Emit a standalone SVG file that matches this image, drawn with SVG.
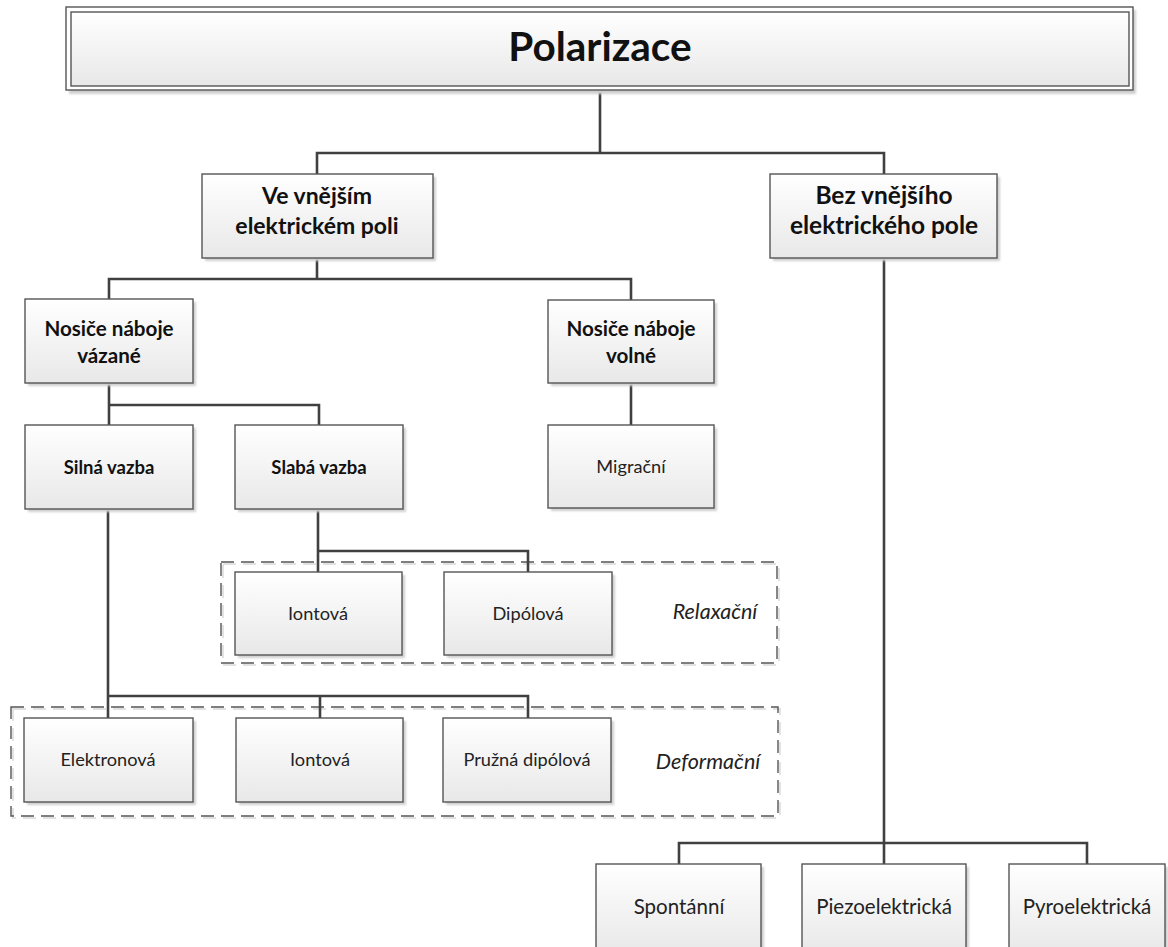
<svg xmlns="http://www.w3.org/2000/svg" width="1168" height="947" viewBox="0 0 1168 947">
<defs>
<linearGradient id="g" x1="0" y1="0" x2="0" y2="1">
<stop offset="0" stop-color="#ffffff"/>
<stop offset="1" stop-color="#e8e8e8"/>
</linearGradient>
<filter id="blur" x="-5%" y="-5%" width="110%" height="110%"><feGaussianBlur stdDeviation="1.2"/></filter>
</defs>
<style>
.box{fill:url(#g);stroke:#555555;stroke-width:1.4}
.sh{fill:#cfcfcf;filter:url(#blur)}
.dash{fill:none;stroke:#555555;stroke-width:1.4;stroke-dasharray:13 7}
.dsh{fill:none;stroke:#e2e2e2;stroke-width:2;stroke-dasharray:13 7}
.con{fill:none;stroke:#404040;stroke-width:2.6}
.f{font-family:Lato,"Liberation Sans",sans-serif;fill:#111;text-anchor:middle}
.b{font-weight:bold}
.s24{font-size:24.5px}
.s23{font-size:23px}
.s20{font-size:20.6px}
.s18b{font-size:18.5px}
.r{font-size:18.2px;fill:#222}
.rl{font-size:20.5px;fill:#222}
.i{font-style:italic;font-size:21.5px;fill:#222}
.t{font-weight:bold;font-size:40.5px}
</style>
<rect width="1168" height="947" fill="#ffffff"/>

<g id="groups">
<g id="relaxacni">
<rect class="dsh" x="223" y="564" width="556" height="101"/>
<rect class="dash" x="221" y="562" width="556" height="101"/>
<text class="f i" x="715" y="619">Relaxační</text>
</g>
<g id="deformacni">
<rect class="dsh" x="13" y="709" width="767" height="109"/>
<rect class="dash" x="11" y="707" width="767" height="109"/>
<text class="f i" x="708" y="769">Deformační</text>
</g>
</g>

<g id="connectors">
<path class="con" d="M600 90V153M317 174V153H884V174"/>
<path class="con" d="M317 258V279M109 299V279H631V300"/>
<path class="con" d="M109 383V405M109 425V405H319V425"/>
<path class="con" d="M631 383V425"/>
<path class="con" d="M318 509V551M318 572V551H528V572"/>
<path class="con" d="M108 509V696M108 718V696H528V718M320 696V718"/>
<path class="con" d="M884 258V843M679 864V843H1087V864M884 843V864"/>
</g>

<g id="polarizace">
<rect class="sh" x="69" y="10" width="1067" height="84"/>
<rect x="66" y="7" width="1067" height="83" fill="#ffffff" stroke="#555555" stroke-width="1.4"/>
<rect class="box" x="71" y="12" width="1058" height="74"/>
<text class="f t" x="600" y="61">Polarizace</text>
</g>

<g id="ve-vnejsim">
<rect class="sh" x="205" y="177" width="231" height="84"/>
<rect class="box" x="202" y="174" width="231" height="84"/>
<text class="f b s23" x="317" y="204">Ve vnějším</text>
<text class="f b s23" x="317" y="234">elektrickém poli</text>
</g>

<g id="bez-vnejsiho">
<rect class="sh" x="773" y="177" width="227" height="84"/>
<rect class="box" x="770" y="174" width="227" height="84"/>
<text class="f b s24" x="884" y="204">Bez vnějšího</text>
<text class="f b s24" x="884" y="234">elektrického pole</text>
</g>

<g id="nosice-vazane">
<rect class="sh" x="28" y="302" width="168" height="84"/>
<rect class="box" x="25" y="299" width="168" height="84"/>
<text class="f b s20" x="109" y="336">Nosiče náboje</text>
<text class="f b s20" x="109" y="363">vázané</text>
</g>

<g id="nosice-volne">
<rect class="sh" x="551" y="303" width="166" height="83"/>
<rect class="box" x="548" y="300" width="166" height="83"/>
<text class="f b s20" x="631" y="336">Nosiče náboje</text>
<text class="f b s20" x="631" y="363">volné</text>
</g>

<g id="silna-vazba">
<rect class="sh" x="28" y="428" width="168" height="84"/>
<rect class="box" x="25" y="425" width="168" height="84"/>
<text class="f b s18b" x="109" y="474">Silná vazba</text>
</g>

<g id="slaba-vazba">
<rect class="sh" x="238" y="428" width="168" height="84"/>
<rect class="box" x="235" y="425" width="168" height="84"/>
<text class="f b s18b" x="319" y="474">Slabá vazba</text>
</g>

<g id="migracni">
<rect class="sh" x="551" y="428" width="166" height="83"/>
<rect class="box" x="548" y="425" width="166" height="83"/>
<text class="f r" x="631" y="473">Migrační</text>
</g>

<g id="iontova-rel">
<rect class="sh" x="238" y="575" width="167" height="83"/>
<rect class="box" x="235" y="572" width="167" height="83"/>
<text class="f r" x="318" y="620">Iontová</text>
</g>

<g id="dipolova">
<rect class="sh" x="447" y="575" width="168" height="83"/>
<rect class="box" x="444" y="572" width="168" height="83"/>
<text class="f r" x="528" y="620">Dipólová</text>
</g>

<g id="elektronova">
<rect class="sh" x="27" y="721" width="169" height="84"/>
<rect class="box" x="24" y="718" width="169" height="84"/>
<text class="f r" x="108" y="766">Elektronová</text>
</g>

<g id="iontova-def">
<rect class="sh" x="239" y="721" width="167" height="84"/>
<rect class="box" x="236" y="718" width="167" height="84"/>
<text class="f r" x="320" y="766">Iontová</text>
</g>

<g id="pruzna-dipolova">
<rect class="sh" x="446" y="721" width="168" height="84"/>
<rect class="box" x="443" y="718" width="168" height="84"/>
<text class="f r" x="527" y="766">Pružná dipólová</text>
</g>

<g id="spontanni">
<rect class="sh" x="599" y="867" width="165" height="90"/>
<rect class="box" x="596" y="864" width="165" height="90"/>
<text class="f rl" x="679" y="914">Spontánní</text>
</g>

<g id="piezoelektricka">
<rect class="sh" x="805" y="867" width="164" height="90"/>
<rect class="box" x="802" y="864" width="164" height="90"/>
<text class="f rl" x="884" y="914">Piezoelektrická</text>
</g>

<g id="pyroelektricka">
<rect class="sh" x="1012" y="867" width="156" height="90"/>
<rect class="box" x="1009" y="864" width="156" height="90"/>
<text class="f rl" x="1087" y="914">Pyroelektrická</text>
</g>
</svg>
